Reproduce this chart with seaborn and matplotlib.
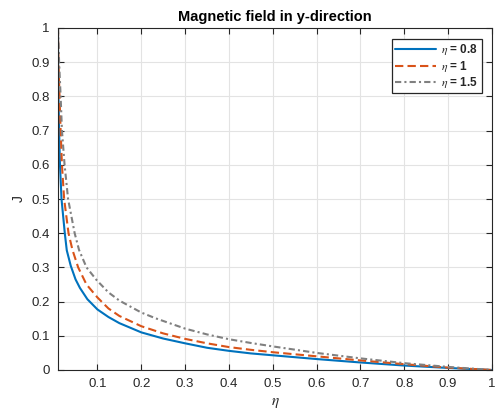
import matplotlib
matplotlib.use("Agg")
import matplotlib.pyplot as plt
import numpy as np
import pandas as pd
import seaborn as sns

# J(eta) profiles for three parameter values
x_08 = [0.010, 0.0103, 0.011, 0.0125, 0.0145, 0.018, 0.0255, 0.030, 0.039, 0.050,
        0.060, 0.077, 0.100, 0.125, 0.150, 0.200, 0.250, 0.300, 0.350, 0.400,
        0.450, 0.500, 0.600, 0.700, 0.800, 0.900, 1.000]
j_08 = [1.0, 0.9, 0.8, 0.7, 0.6, 0.5, 0.4, 0.35, 0.305, 0.265,
        0.24, 0.207, 0.177, 0.155, 0.137, 0.11, 0.092, 0.078, 0.065, 0.056,
        0.0485, 0.043, 0.032, 0.022, 0.013, 0.006, 0.0]

x_10 = [0.010, 0.011, 0.0135, 0.016, 0.019, 0.024, 0.034, 0.043, 0.056, 0.075,
        0.100, 0.125, 0.150, 0.200, 0.250, 0.300, 0.350, 0.400, 0.450, 0.500,
        0.600, 0.700, 0.800, 0.900, 1.000]
j_10 = [1.0, 0.9, 0.8, 0.7, 0.6, 0.5, 0.4, 0.351, 0.3, 0.25,
        0.212, 0.18, 0.158, 0.128, 0.107, 0.091, 0.078, 0.067, 0.059, 0.052,
        0.04, 0.028, 0.017, 0.007, 0.0]

x_15 = [0.010, 0.0125, 0.016, 0.019, 0.025, 0.033, 0.048, 0.058, 0.075, 0.098,
        0.125, 0.150, 0.200, 0.233, 0.300, 0.350, 0.400, 0.450, 0.500, 0.600,
        0.700, 0.800, 0.900, 1.000]
j_15 = [1.0, 0.9, 0.8, 0.7, 0.6, 0.5, 0.4, 0.351, 0.3, 0.263,
        0.227, 0.203, 0.168, 0.151, 0.121, 0.104, 0.09, 0.079, 0.069, 0.05,
        0.034, 0.02, 0.009, 0.0]

series_names = [r"$\eta$ = 0.8", r"$\eta$ = 1", r"$\eta$ = 1.5"]
series_colors = ["#0072BD", "#D95319", "#808080"]

x_ticks = [0.1, 0.2, 0.3, 0.4, 0.5, 0.6, 0.7, 0.8, 0.9, 1.0]
x_tick_labels = ["0.1", "0.2", "0.3", "0.4", "0.5", "0.6", "0.7", "0.8", "0.9", "1"]
y_ticks = [0, 0.1, 0.2, 0.3, 0.4, 0.5, 0.6, 0.7, 0.8, 0.9, 1.0]
y_tick_labels = ["0", "0.1", "0.2", "0.3", "0.4", "0.5", "0.6", "0.7", "0.8", "0.9", "1"]

df = pd.concat([
    pd.DataFrame({"eta": x, "J": j, "case": name})
    for x, j, name in zip([x_08, x_10, x_15], [j_08, j_10, j_15], series_names)
], ignore_index=True)

sns.set_theme(style="white")
plt.rcParams["font.family"] = ["Liberation Sans", "DejaVu Sans"]
plt.rcParams["mathtext.fontset"] = "stix"

axis_col = "#262626"
fig = plt.figure(figsize=(5.03, 4.13), dpi=100)
ax = fig.add_axes([58 / 503, 1 - 370 / 413, (492 - 58) / 503, (370 - 28) / 413])

sns.lineplot(
    data=df, x="eta", y="J", hue="case", style="case",
    palette=dict(zip(series_names, series_colors)),
    dashes={series_names[0]: "", series_names[1]: (4, 2), series_names[2]: (3, 1.5, 1, 1.5)},
    estimator=None, sort=False, linewidth=1.5, ax=ax,
)

ax.set_xlim(0.01, 1)
ax.set_ylim(0, 1)
ax.set_xticks(x_ticks)
ax.set_xticklabels(x_tick_labels)
ax.set_yticks(y_ticks)
ax.set_yticklabels(y_tick_labels)

ax.grid(True, color="#e3e3e3", linewidth=0.8)
ax.set_axisbelow(True)
for s in ax.spines.values():
    s.set_visible(True)
    s.set_color(axis_col)
    s.set_linewidth(0.8)
ax.tick_params(direction="in", length=4, width=0.8, color=axis_col,
               labelcolor=axis_col, labelsize=9.5, top=True, right=True,
               bottom=True, left=True, pad=6)

ax.set_title("Magnetic field in y-direction", fontsize=10.5, fontweight="bold",
             color="black", pad=5)
ax.set_xlabel(r"$\eta$", fontsize=11, color=axis_col, labelpad=4)
ax.set_ylabel("J", fontsize=10, color=axis_col, labelpad=4)

leg = ax.legend(loc="upper right", bbox_to_anchor=(0.977, 0.968), frameon=True,
                fancybox=False, handlelength=3.4, handletextpad=0.5,
                borderpad=0.3, labelspacing=0.1, borderaxespad=0,
                prop={"weight": "bold", "size": 8.5})
leg.get_frame().set_edgecolor(axis_col)
leg.get_frame().set_linewidth(0.9)
leg.get_frame().set_alpha(1)
for t in leg.get_texts():
    t.set_color(axis_col)

fig.savefig("out.png", dpi=100)
